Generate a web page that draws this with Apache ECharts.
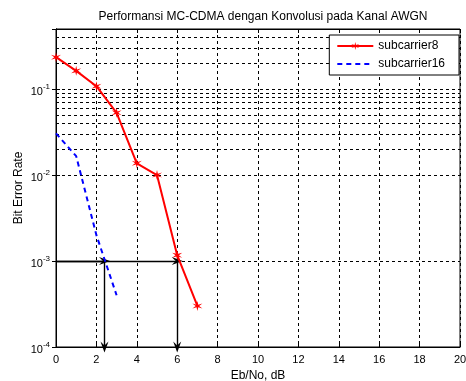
<!DOCTYPE html>
<html>
<head>
<meta charset="utf-8">
<script src="https://cdn.jsdelivr.net/npm/echarts@6/dist/echarts.min.js"></script>
<style>
  html, body { margin: 0; padding: 0; background: #fff; }
  #chart { width: 466px; height: 381px; }
</style>
</head>
<body>
<div id="chart"></div>
<script>
// data
const ebno8 = [0, 1, 2, 3, 4, 5, 6, 7];
const ber8 = [0.235, 0.163, 0.108, 0.053, 0.0137, 0.0100, 0.00117, 0.00030];
const ebno16 = [0, 1, 2, 3];
const ber16 = [0.0305, 0.0166, 0.0020, 0.00040];

// minor log grid (2..9 x decade)
const minorTicks = [
    2e-4, 3e-4, 4e-4, 5e-4, 6e-4, 7e-4, 8e-4, 9e-4,
    2e-3, 3e-3, 4e-3, 5e-3, 6e-3, 7e-3, 8e-3, 9e-3,
    2e-2, 3e-2, 4e-2, 5e-2, 6e-2, 7e-2, 8e-2, 9e-2,
    0.2, 0.3, 0.4
];

// annotation arrows: [start, end]
const arrows = [
    [[0, 1e-3], [2.4, 1e-3]],
    [[0, 1e-3], [6, 1e-3]],
    [[2.4, 1e-3], [2.4, 1e-4]],
    [[6, 1e-3], [6, 1e-4]]
];

const FONT = 'Liberation Sans, Arial, sans-serif';
const gridDash = { color: '#000', width: 1, type: [3, 3] };
const arrowHead = 'path://M5,0 L10,11 L5,7 L0,11 Z';
const starMark = 'path://M10,0 L11.5,7.4 L18.66,5 L13,10 L18.66,15 L11.5,12.6 L10,20 L8.5,12.6 L1.34,15 L7,10 L1.34,5 L8.5,7.4 Z';

function zip(xs, ys) {
    return xs.map((x, i) => [x, ys[i]]);
}

function logLabel(v) {
    const e = Math.log10(v);
    if (Math.abs(e - Math.round(e)) > 1e-6) return '';
    return '{b|10}{s|' + Math.round(e) + '}';
}

const chart = echarts.init(document.getElementById('chart'));

chart.setOption({
    animation: false,
    backgroundColor: '#fff',
    textStyle: { fontFamily: FONT },
    title: {
        text: 'Performansi MC-CDMA dengan Konvolusi pada Kanal AWGN',
        left: 258,
        textAlign: 'center',
        top: 6,
        textStyle: { fontSize: 12, fontWeight: 'normal', color: '#000', fontFamily: FONT }
    },
    grid: {
        left: 56, right: 6, top: 29, bottom: 34,
        outerBoundsMode: 'none',
        containLabel: false,
        show: true, borderColor: '#000', borderWidth: 1
    },
    legend: {
        data: [
            { name: 'subcarrier8' },
            { name: 'subcarrier16', itemStyle: { opacity: 0 } }
        ],
        orient: 'vertical',
        right: 7,
        top: 35,
        z: 20,
        backgroundColor: '#fff',
        borderColor: '#000',
        borderWidth: 1,
        padding: [5, 14, 5, 7],
        itemWidth: 36,
        itemHeight: 10,
        itemGap: 6,
        textStyle: { fontSize: 12, color: '#000', fontFamily: FONT }
    },
    xAxis: [{
        type: 'value',
        min: 0, max: 20, interval: 2,
        name: 'Eb/No, dB',
        nameLocation: 'middle',
        nameGap: 23,
        nameTextStyle: { fontSize: 12, color: '#000' },
        axisLine: { lineStyle: { color: '#000' } },
        axisTick: { inside: true, length: 4, lineStyle: { color: '#000' } },
        axisLabel: { fontSize: 11, color: '#000', margin: 7 },
        splitLine: { show: true, lineStyle: gridDash }
    }, {
        type: 'value', position: 'top',
        min: 0, max: 20, interval: 2,
        axisLine: { lineStyle: { color: '#000' } },
        axisTick: { inside: true, length: 4, lineStyle: { color: '#000' } },
        axisLabel: { show: false },
        splitLine: { show: false }
    }],
    yAxis: [{
        type: 'log',
        logBase: 10,
        min: 1e-4, max: 0.5,
        name: 'Bit Error Rate',
        nameLocation: 'middle',
        nameGap: 31,
        nameMoveOverlap: false,
        nameTextStyle: { fontSize: 12, color: '#000' },
        axisLine: { lineStyle: { color: '#000' } },
        axisTick: { inside: true, length: 4, lineStyle: { color: '#000' } },
        axisLabel: {
            margin: 6,
            formatter: logLabel,
            rich: {
                b: { fontSize: 11, color: '#000', lineHeight: 14, padding: [6, 0, 0, 0] },
                s: { fontSize: 8, color: '#000', lineHeight: 14, padding: [0, 0, 4, 0] }
            }
        },
        splitLine: { show: true, lineStyle: gridDash }
    }, {
        type: 'log', position: 'right',
        logBase: 10,
        min: 1e-4, max: 0.5,
        axisLine: { lineStyle: { color: '#000' } },
        axisTick: { inside: true, length: 4, lineStyle: { color: '#000' } },
        axisLabel: { show: false },
        splitLine: { show: false }
    }],
    series: [{
        name: 'grid',
        type: 'line',
        data: [],
        silent: true,
        markLine: {
            silent: true,
            symbol: 'none',
            label: { show: false },
            lineStyle: gridDash,
            emphasis: { disabled: true },
            data: minorTicks.map(v => ({ yAxis: v }))
        }
    }, {
        name: 'subcarrier8',
        type: 'line',
        data: zip(ebno8, ber8),
        symbol: starMark,
        symbolSize: 10,
        color: '#ff0000',
        lineStyle: { color: '#ff0000', width: 2 },
        itemStyle: { color: '#ff0000' },
        z: 5
    }, {
        name: 'subcarrier16',
        type: 'line',
        data: zip(ebno16, ber16),
        symbol: 'none',
        color: '#0000ff',
        lineStyle: { color: '#0000ff', width: 2, type: [5, 4] },
        z: 5
    }, {
        name: 'arrows',
        type: 'line',
        data: [],
        silent: true,
        z: 6,
        markLine: {
            silent: true,
            symbol: ['none', arrowHead],
            symbolSize: [8, 11],
            label: { show: false },
            lineStyle: { color: '#000', width: 1.4, type: 'solid' },
            emphasis: { disabled: true },
            data: arrows.map(a => [{ coord: a[0] }, { coord: a[1] }])
        }
    }]
});
</script>
</body>
</html>
